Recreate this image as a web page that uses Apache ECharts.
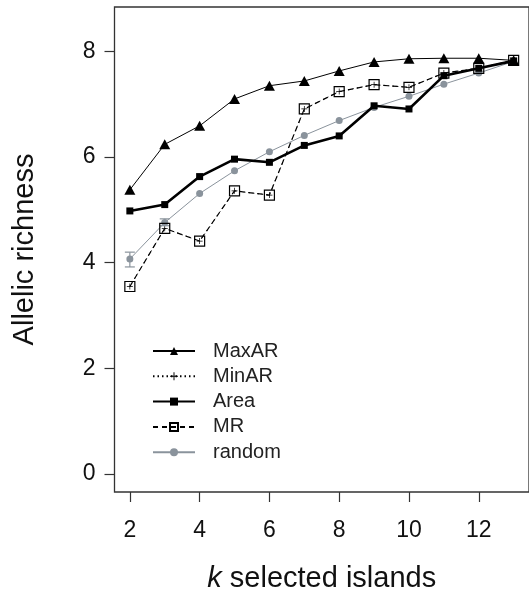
<!DOCTYPE html>
<html>
<head>
<meta charset="utf-8">
<script src="https://cdn.jsdelivr.net/npm/echarts@6/dist/echarts.min.js"></script>
<style>
html,body{margin:0;padding:0;background:#fff;}
#chart{width:529px;height:602px;}
</style>
</head>
<body>
<div id="chart"></div>
<script>
// k selected islands
var kValues   = [2,3,4,5,6,7,8,9,10,11,12,13];
var maxAR     = [5.38,6.24,6.59,7.10,7.35,7.44,7.63,7.80,7.86,7.87,7.87,7.83];
var minAR     = [3.55,4.65,4.41,5.36,5.28,6.91,7.24,7.37,7.32,7.59,7.68,7.83];
var area      = [4.98,5.10,5.63,5.96,5.90,6.22,6.40,6.97,6.91,7.54,7.68,7.82];
var mr        = [3.55,4.65,4.41,5.36,5.28,6.91,7.24,7.37,7.32,7.59,7.68,7.83];
var random    = [4.07,4.76,5.31,5.74,6.10,6.41,6.69,6.94,7.15,7.38,7.59,7.81];
// error bars for random: [k, low, high]
var randomErr = [[2,3.92,4.20],[3,4.70,4.83]];
var xTicks    = [2,4,6,8,10,12];
var yTicks    = [0,2,4,6,8];

var grey = '#8a939c';
var font = 'Liberation Sans, Arial, sans-serif';

function pairs(vals){
    return vals.map(function(v,i){ return [kValues[i], v]; });
}

var myChart = echarts.init(document.getElementById('chart'));
var option = {
    animation: false,
    backgroundColor: '#fff',
    grid: {
        left: 114.5,
        right: -2.6,
        top: 7,
        bottom: 110,
        show: true,
        borderColor: '#333',
        borderWidth: 1.3,
        backgroundColor: 'transparent'
    },
    legend: {
        orient: 'vertical',
        left: 152,
        top: 341,
        padding: 0,
        itemWidth: 42,
        itemHeight: 10,
        itemGap: 5.3,
        textStyle: {
            fontFamily: font,
            fontSize: 20,
            lineHeight: 20,
            color: '#222',
            padding: [0,0,0,13]
        },
        data: ['MaxAR','MinAR','Area','MR','random']
    },
    xAxis: {
        type: 'value',
        min: 1.56,
        max: 13.44,
        splitLine: {show: false},
        axisLine: {show: false, onZero: false},
        axisTick: {show: true, length: 10, inside: false, customValues: xTicks,
            lineStyle: {color: '#333', width: 1.2}},
        axisLabel: {customValues: xTicks, margin: 27, fontFamily: font, fontSize: 23, color: '#111'},
        name: '{i|k} selected islands',
        nameLocation: 'middle',
        nameGap: 72,
        nameTextStyle: {
            fontFamily: font, fontSize: 29, color: '#111',
            rich: {i: {fontStyle: 'italic', fontFamily: font, fontSize: 29, color: '#111'}}
        }
    },
    yAxis: {
        type: 'value',
        min: -0.34,
        max: 8.84,
        splitLine: {show: false},
        axisLine: {show: false, onZero: false},
        axisTick: {show: true, length: 10, inside: false, customValues: yTicks,
            lineStyle: {color: '#333', width: 1.2}},
        axisLabel: {customValues: yTicks, margin: 19, fontFamily: font, fontSize: 23, color: '#111'},
        name: 'Allelic richness',
        nameLocation: 'middle',
        nameGap: 75,
        nameTextStyle: {fontFamily: font, fontSize: 29, color: '#111'}
    },
    series: [
        {
            name: 'MinAR',
            type: 'line',
            data: pairs(minAR),
            symbol: 'path://M0,4.4h10v1.2h-10zM4.4,0h1.2v10h-1.2z',
            symbolSize: 6,
            itemStyle: {color: '#000'},
            lineStyle: {color: '#000', width: 1, type: [1.5,3]},
            z: 2
        },
        {
            name: 'random',
            type: 'line',
            data: pairs(random),
            symbol: 'circle',
            symbolSize: 7,
            itemStyle: {color: grey},
            lineStyle: {color: grey, width: 1},
            z: 3
        },
        {
            name: 'errbar',
            type: 'custom',
            data: randomErr,
            renderItem: function(params, api){
                var lo = api.coord([api.value(0), api.value(1)]);
                var hi = api.coord([api.value(0), api.value(2)]);
                var w = 5;
                var st = {stroke: grey, lineWidth: 1.2};
                return {type: 'group', children: [
                    {type: 'line', shape: {x1: lo[0], y1: lo[1], x2: hi[0], y2: hi[1]}, style: st},
                    {type: 'line', shape: {x1: lo[0]-w, y1: lo[1], x2: lo[0]+w, y2: lo[1]}, style: st},
                    {type: 'line', shape: {x1: hi[0]-w, y1: hi[1], x2: hi[0]+w, y2: hi[1]}, style: st}
                ]};
            },
            z: 3
        },
        {
            name: 'MR',
            type: 'line',
            data: pairs(mr),
            symbol: 'rect',
            symbolSize: 10,
            itemStyle: {color: 'rgba(255,255,255,0)', borderColor: '#000', borderWidth: 1.2},
            lineStyle: {color: '#000', width: 1.2, type: [5,4]},
            z: 4
        },
        {
            name: 'Area',
            type: 'line',
            data: pairs(area),
            symbol: 'rect',
            symbolSize: 7,
            itemStyle: {color: '#000'},
            lineStyle: {color: '#000', width: 2.6},
            z: 5
        },
        {
            name: 'MaxAR',
            type: 'line',
            data: pairs(maxAR),
            symbol: 'triangle',
            symbolSize: [11,10],
            itemStyle: {color: '#000'},
            lineStyle: {color: '#000', width: 1},
            z: 6
        }
    ]
};
myChart.setOption(option);
</script>
</body>
</html>
